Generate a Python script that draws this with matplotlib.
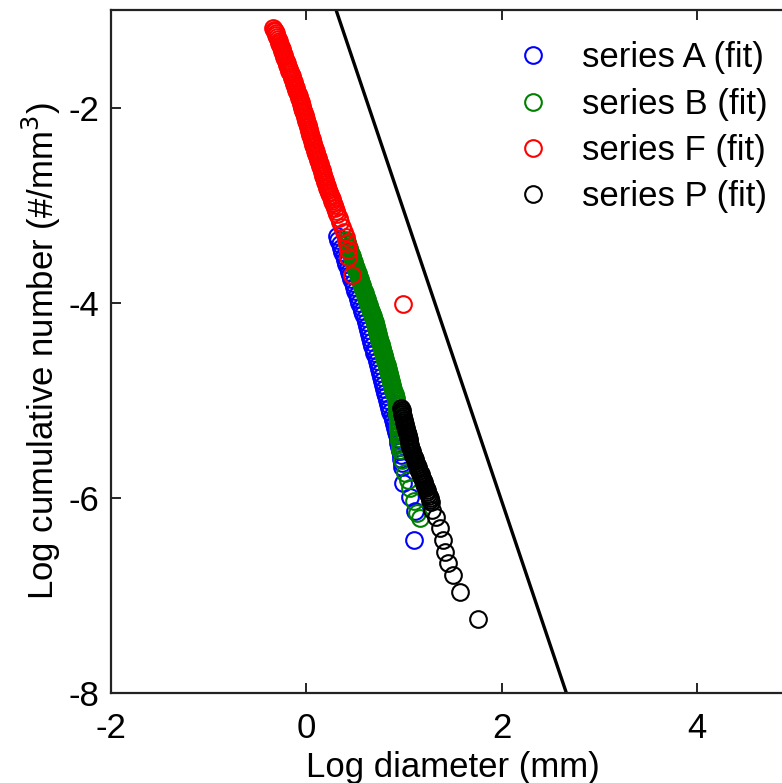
"""
Cumulative size distribution (log-log) for four fitted series + reference line.
"""

import numpy as np
import matplotlib
matplotlib.use('Agg')
import matplotlib.pyplot as plt

plt.rcParams['font.family'] = ['Liberation Sans', 'DejaVu Sans']
plt.rcParams['axes.unicode_minus'] = False

# (log diameter, log cumulative number)
SERIES_A = [
    (0.313, -3.32), (0.326, -3.36), (0.340, -3.40), (0.353, -3.44), (0.366, -3.48),
    (0.379, -3.52), (0.393, -3.56), (0.407, -3.60), (0.420, -3.64), (0.433, -3.68),
    (0.447, -3.72), (0.460, -3.76), (0.473, -3.80), (0.487, -3.84), (0.500, -3.88),
    (0.514, -3.92), (0.527, -3.96), (0.540, -4.00), (0.554, -4.04), (0.567, -4.08),
    (0.581, -4.12), (0.594, -4.16), (0.605, -4.20), (0.617, -4.24), (0.629, -4.28),
    (0.641, -4.32), (0.652, -4.36), (0.664, -4.40), (0.675, -4.44), (0.686, -4.48),
    (0.696, -4.52), (0.707, -4.56), (0.717, -4.60), (0.727, -4.64), (0.738, -4.68),
    (0.749, -4.72), (0.760, -4.76), (0.771, -4.80), (0.782, -4.84), (0.793, -4.88),
    (0.804, -4.92), (0.815, -4.96), (0.826, -5.00), (0.837, -5.04), (0.848, -5.08),
    (0.859, -5.12), (0.871, -5.16), (0.882, -5.20), (0.893, -5.24), (0.903, -5.28),
    (0.913, -5.32), (0.922, -5.36), (0.932, -5.40), (0.941, -5.44), (0.951, -5.48),
    (0.960, -5.52), (0.965, -5.56), (0.970, -5.60), (0.975, -5.64), (0.979, -5.68),
    (0.989, -5.85), (1.060, -5.99), (1.112, -6.13), (1.101, -6.43),
]

SERIES_B = [
    (0.405, -3.36), (0.412, -3.38), (0.419, -3.40), (0.426, -3.42), (0.433, -3.44),
    (0.440, -3.46), (0.447, -3.48), (0.454, -3.50), (0.461, -3.52), (0.468, -3.54),
    (0.475, -3.56), (0.482, -3.58), (0.489, -3.60), (0.496, -3.62), (0.503, -3.64),
    (0.510, -3.66), (0.517, -3.68), (0.524, -3.70), (0.531, -3.72), (0.538, -3.74),
    (0.545, -3.76), (0.552, -3.78), (0.559, -3.80), (0.566, -3.82), (0.573, -3.84),
    (0.580, -3.86), (0.587, -3.88), (0.594, -3.90), (0.601, -3.92), (0.608, -3.94),
    (0.615, -3.96), (0.622, -3.98), (0.629, -4.00), (0.636, -4.02), (0.643, -4.04),
    (0.650, -4.06), (0.657, -4.08), (0.664, -4.10), (0.671, -4.12), (0.678, -4.14),
    (0.685, -4.16), (0.692, -4.18), (0.698, -4.20), (0.703, -4.22), (0.709, -4.24),
    (0.714, -4.26), (0.720, -4.28), (0.725, -4.30), (0.731, -4.32), (0.736, -4.34),
    (0.742, -4.36), (0.747, -4.38), (0.753, -4.40), (0.758, -4.42), (0.764, -4.44),
    (0.769, -4.46), (0.775, -4.48), (0.780, -4.50), (0.786, -4.52), (0.791, -4.54),
    (0.797, -4.56), (0.802, -4.58), (0.808, -4.60), (0.813, -4.62), (0.819, -4.64),
    (0.824, -4.66), (0.830, -4.68), (0.835, -4.70), (0.841, -4.72), (0.846, -4.74),
    (0.852, -4.76), (0.857, -4.78), (0.863, -4.80), (0.868, -4.82), (0.874, -4.84),
    (0.879, -4.86), (0.885, -4.88), (0.890, -4.90), (0.896, -4.92), (0.901, -4.94),
    (0.907, -4.96), (0.912, -4.98), (0.917, -5.00), (0.920, -5.03), (0.922, -5.06),
    (0.925, -5.09), (0.927, -5.12), (0.929, -5.15), (0.932, -5.18), (0.934, -5.21),
    (0.937, -5.24), (0.939, -5.27), (0.941, -5.30), (0.944, -5.33), (0.946, -5.36),
    (0.949, -5.39), (0.951, -5.42), (0.953, -5.45), (0.956, -5.48), (0.958, -5.51),
    (0.978, -5.61), (1.009, -5.74), (1.035, -5.82), (1.060, -5.90), (1.100, -6.03),
    (1.132, -6.16), (1.163, -6.21),
]

SERIES_F = [
    (-0.340, -1.18), (-0.332, -1.20), (-0.324, -1.22), (-0.317, -1.24), (-0.309, -1.26),
    (-0.301, -1.28), (-0.293, -1.30), (-0.285, -1.32), (-0.278, -1.34), (-0.270, -1.36),
    (-0.262, -1.38), (-0.254, -1.40), (-0.247, -1.42), (-0.240, -1.44), (-0.232, -1.46),
    (-0.225, -1.48), (-0.218, -1.50), (-0.211, -1.52), (-0.204, -1.54), (-0.196, -1.56),
    (-0.189, -1.58), (-0.182, -1.60), (-0.175, -1.62), (-0.168, -1.64), (-0.160, -1.66),
    (-0.153, -1.68), (-0.146, -1.70), (-0.139, -1.72), (-0.132, -1.74), (-0.124, -1.76),
    (-0.117, -1.78), (-0.110, -1.80), (-0.103, -1.82), (-0.096, -1.84), (-0.088, -1.86),
    (-0.081, -1.88), (-0.074, -1.90), (-0.067, -1.92), (-0.061, -1.94), (-0.055, -1.96),
    (-0.049, -1.98), (-0.043, -2.00), (-0.037, -2.02), (-0.031, -2.04), (-0.025, -2.06),
    (-0.019, -2.08), (-0.013, -2.10), (-0.007, -2.12), (-0.001, -2.14), (0.005, -2.16),
    (0.011, -2.18), (0.017, -2.20), (0.023, -2.22), (0.029, -2.24), (0.035, -2.26),
    (0.041, -2.28), (0.047, -2.30), (0.053, -2.32), (0.059, -2.34), (0.065, -2.36),
    (0.071, -2.38), (0.077, -2.40), (0.083, -2.42), (0.089, -2.44), (0.096, -2.46),
    (0.102, -2.48), (0.109, -2.50), (0.115, -2.52), (0.122, -2.54), (0.128, -2.56),
    (0.135, -2.58), (0.141, -2.60), (0.148, -2.62), (0.154, -2.64), (0.161, -2.66),
    (0.167, -2.68), (0.174, -2.70), (0.180, -2.72), (0.187, -2.74), (0.193, -2.76),
    (0.200, -2.78), (0.206, -2.80), (0.213, -2.82), (0.219, -2.84), (0.227, -2.86),
    (0.235, -2.88), (0.243, -2.90), (0.251, -2.92), (0.258, -2.94), (0.266, -2.96),
    (0.274, -2.98), (0.282, -3.00), (0.294, -3.03), (0.305, -3.06), (0.317, -3.09),
    (0.330, -3.13), (0.345, -3.17), (0.360, -3.22), (0.380, -3.27), (0.400, -3.33),
    (0.416, -3.39), (0.420, -3.46), (0.430, -3.53), (0.467, -3.72), (0.990, -4.01),
]

SERIES_P = [
    (0.968, -5.08), (0.973, -5.10), (0.978, -5.12), (0.982, -5.14), (0.987, -5.16),
    (0.992, -5.18), (0.997, -5.20), (1.002, -5.22), (1.006, -5.24), (1.011, -5.26),
    (1.016, -5.28), (1.021, -5.30), (1.026, -5.32), (1.030, -5.34), (1.035, -5.36),
    (1.040, -5.38), (1.045, -5.40), (1.050, -5.42), (1.054, -5.44), (1.059, -5.46),
    (1.064, -5.48), (1.069, -5.50), (1.075, -5.52), (1.083, -5.54), (1.090, -5.56),
    (1.098, -5.58), (1.106, -5.60), (1.113, -5.62), (1.121, -5.64), (1.129, -5.66),
    (1.137, -5.68), (1.144, -5.70), (1.152, -5.72), (1.160, -5.74), (1.167, -5.76),
    (1.175, -5.78), (1.183, -5.80), (1.190, -5.82), (1.198, -5.84), (1.206, -5.86),
    (1.213, -5.88), (1.221, -5.90), (1.229, -5.92), (1.237, -5.94), (1.244, -5.96),
    (1.252, -5.98), (1.260, -6.00), (1.267, -6.02), (1.275, -6.04), (1.286, -6.12),
    (1.327, -6.20), (1.367, -6.31), (1.398, -6.43), (1.419, -6.55), (1.449, -6.67),
    (1.501, -6.79), (1.572, -6.96), (1.756, -7.24),
]

LABELS = ['series A (fit)', 'series B (fit)', 'series F (fit)', 'series P (fit)']
COLORS = ['#0000ff', '#008000', '#ff0000', '#000000']

# reference line  y = slope * x + intercept
FIT_SLOPE = -2.97
FIT_INTERCEPT = -0.10

XLIM = (-2, 5)
YLIM = (-8, -1)
FS = 25

fig = plt.figure(figsize=(7.82, 7.83), dpi=100)
ax = fig.add_axes([0.1420, 0.1149, 0.8747, 0.8723])

for pts, lab, col in zip([SERIES_A, SERIES_B, SERIES_F, SERIES_P], LABELS, COLORS):
    x, y = np.array(pts).T
    ax.plot(x, y, 'o', mfc='none', mec=col, ms=12, mew=1.5, label=lab)

xf = np.array(XLIM, dtype=float)
ax.plot(xf, FIT_SLOPE * xf + FIT_INTERCEPT, color='k', lw=2.4)

ax.set_xlim(*XLIM)
ax.set_ylim(*YLIM)
ax.set_xticks([-2, 0, 2, 4])
ax.set_yticks([-8, -6, -4, -2])
ax.tick_params(direction='in', length=7, width=1.2, labelsize=FS,
               top=True, right=True)
ax.tick_params(axis='x', pad=14)
ax.tick_params(axis='y', pad=8.5)
for sp in ax.spines.values():
    sp.set_linewidth(1.6)
    sp.set_color('#222222')

ax.set_xlabel('Log diameter (mm)', fontsize=FS, labelpad=4)
ax.set_ylabel('Log cumulative number (#/mm$^3$)', fontsize=FS, labelpad=4)

ax.legend(loc='upper left', bbox_to_anchor=(0.6593, 0.947),
          bbox_transform=fig.transFigure, frameon=False, fontsize=FS,
          handlelength=1.0, handletextpad=0.91, labelspacing=0.38,
          borderpad=0, borderaxespad=0)

fig.savefig('out.png', dpi=100)
